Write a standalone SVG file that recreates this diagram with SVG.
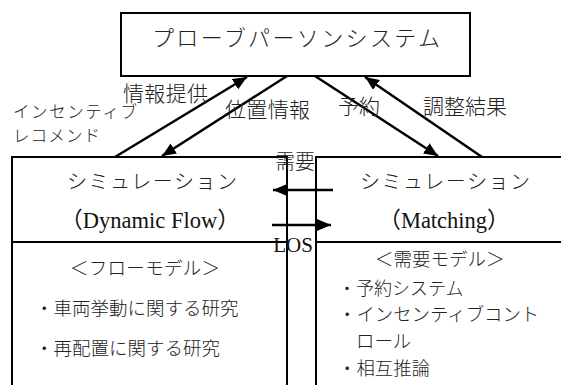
<svg xmlns="http://www.w3.org/2000/svg" width="561" height="385" viewBox="0 0 561 385">
  <style>
    .box { fill: none; stroke: #000; stroke-width: 2; }
    .conn { stroke: #000; stroke-width: 2.5; fill: none; marker-end: url(#ah); }
    .jp { font-family: "Noto Sans CJK JP", "Liberation Sans", sans-serif; font-weight: 300; fill: #222; }
    .lat { font-family: "Liberation Serif", "Noto Sans CJK JP", serif; fill: #111; }
  </style>
  <defs>
    <marker id="ah" markerUnits="userSpaceOnUse" markerWidth="14" markerHeight="12" refX="14" refY="6" orient="auto">
      <path d="M0,0 L14,6 L0,12 z" fill="#000"/>
    </marker>
  </defs>
  <rect x="0" y="0" width="561" height="385" fill="#fff"/>

  <g id="probe-person-system">
    <rect class="box" x="121" y="13" width="349" height="63"/>
    <text class="jp" x="152" y="36" font-size="22" dominant-baseline="central" textLength="288" lengthAdjust="spacing">プローブパーソンシステム</text>
  </g>

  <g id="sim-dynamic-flow">
    <path class="box" d="M12,400 V157 H287 V400 M12,242 H287"/>
    <text class="jp" x="67" y="180" font-size="20" dominant-baseline="central" textLength="170" lengthAdjust="spacing">シミュレーション</text>
    <text class="lat" x="150" y="228" font-size="22.5" text-anchor="middle">（Dynamic Flow）</text>
    <text class="jp" x="70" y="267" font-size="18.5" dominant-baseline="central" textLength="150" lengthAdjust="spacing">＜フローモデル＞</text>
    <text class="jp" x="35" y="307" font-size="18.5" dominant-baseline="central">・車両挙動に関する研究</text>
    <text class="jp" x="35" y="347" font-size="18.5" dominant-baseline="central">・再配置に関する研究</text>
  </g>

  <g id="sim-matching">
    <path class="box" d="M316,400 V157 H570 M316,242 H570"/>
    <text class="jp" x="360" y="180" font-size="20" dominant-baseline="central" textLength="170" lengthAdjust="spacing">シミュレーション</text>
    <text class="lat" x="444" y="228" font-size="22.5" text-anchor="middle">（Matching）</text>
    <text class="jp" x="375" y="258" font-size="18.5" dominant-baseline="central">＜需要モデル＞</text>
    <text class="jp" x="338" y="287" font-size="18" dominant-baseline="central">・予約システム</text>
    <text class="jp" x="338" y="313" font-size="18.4" dominant-baseline="central">・インセンティブコント</text>
    <text class="jp" x="356" y="340" font-size="18.4" dominant-baseline="central">ロール</text>
    <text class="jp" x="338" y="367" font-size="18.4" dominant-baseline="central">・相互推論</text>
  </g>

  <g id="connectors">
    <line class="conn" x1="115" y1="157" x2="247" y2="77"/>
    <line class="conn" x1="287" y1="76" x2="162" y2="156"/>
    <line class="conn" x1="315" y1="76" x2="438" y2="156"/>
    <line class="conn" x1="482" y1="157" x2="365" y2="77"/>
    <line class="conn" x1="333" y1="190" x2="273" y2="190"/>
    <line class="conn" x1="272" y1="225" x2="331" y2="225"/>
  </g>

  <g id="connector-labels">
    <text class="jp" x="123" y="92" font-size="21" dominant-baseline="central" textLength="85" lengthAdjust="spacing">情報提供</text>
    <text class="jp" x="13" y="111" font-size="16.5" dominant-baseline="central" textLength="124" lengthAdjust="spacing">インセンティブ</text>
    <text class="jp" x="13" y="135" font-size="16.5" dominant-baseline="central" textLength="87" lengthAdjust="spacing">レコメンド</text>
    <text class="jp" x="225" y="108" font-size="21" dominant-baseline="central" textLength="85" lengthAdjust="spacing">位置情報</text>
    <text class="jp" x="338" y="105" font-size="21" dominant-baseline="central" textLength="42" lengthAdjust="spacing">予約</text>
    <text class="jp" x="423" y="105" font-size="21" dominant-baseline="central" textLength="84" lengthAdjust="spacing">調整結果</text>
    <text class="jp" x="275" y="160" font-size="20" dominant-baseline="central" textLength="40" lengthAdjust="spacing">需要</text>
    <text class="lat" x="293" y="252" font-size="21" text-anchor="middle">LOS</text>
  </g>
</svg>
